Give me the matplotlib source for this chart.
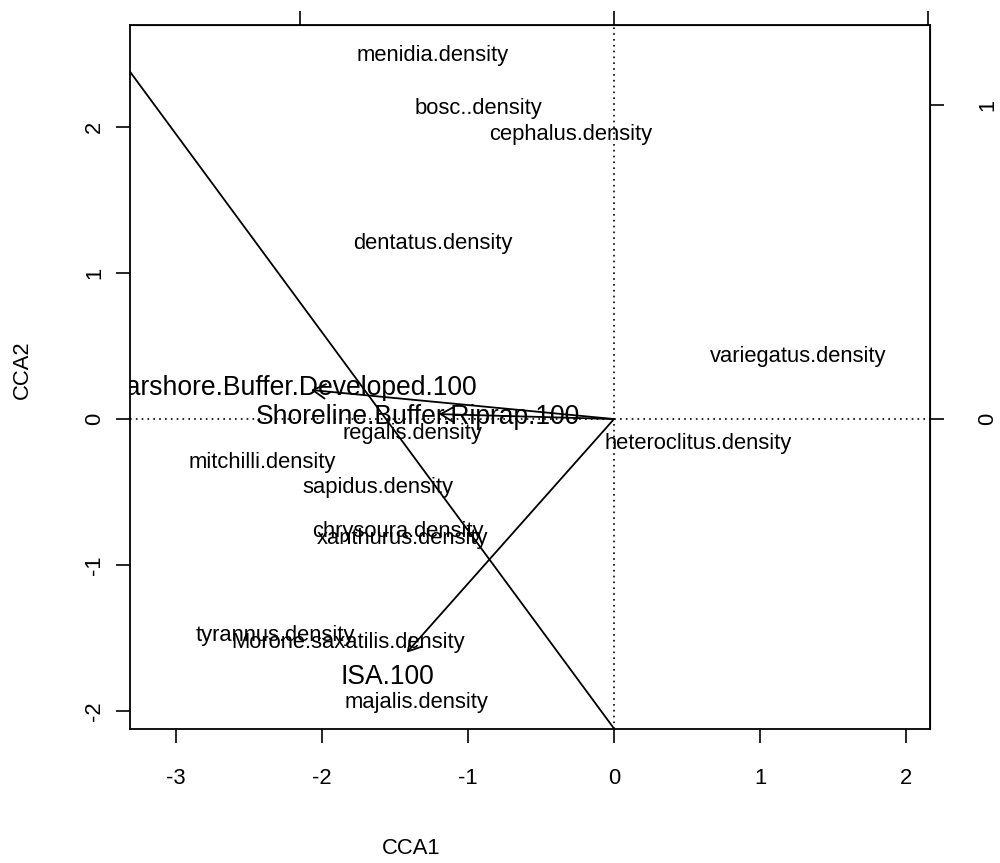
import matplotlib
matplotlib.use("Agg")
import matplotlib.pyplot as plt

plt.rcParams["font.family"] = ["Liberation Sans", "DejaVu Sans"]
plt.rcParams["axes.unicode_minus"] = False

# species scores (CCA1, CCA2)
species = [
    "menidia.density", "bosc..density", "cephalus.density", "dentatus.density",
    "variegatus.density", "heteroclitus.density", "regalis.density",
    "mitchilli.density", "sapidus.density", "chrysoura.density",
    "xanthurus.density", "tyrannus.density", "Morone.saxatilis.density",
    "majalis.density",
]
sp_x = [-1.24, -0.93, -0.30, -1.24, 1.26, 0.575, -1.38,
        -2.41, -1.62, -1.48, -1.45, -2.32, -1.82, -1.35]
sp_y = [2.49, 2.13, 1.95, 1.205, 0.425, -0.165, -0.10,
        -0.30, -0.47, -0.77, -0.815, -1.48, -1.53, -1.94]

# environmental biplot arrows
env = ["Nearshore.Buffer.Developed.100", "Shoreline.Buffer.Riprap.100", "ISA.100"]
env_x = [-2.075, -1.20, -1.42]
env_y = [0.199, 0.034, -1.60]
env_lab_x = [-2.25, -1.34, -1.55]
env_lab_y = [0.212, 0.014, -1.77]

# extra straight line across the ordination
line_x = [0.0, -3.5]
line_y = [-2.12, 2.63]

arrow_mul = 2.15

fig = plt.figure(figsize=(10, 8.63), dpi=100)
ax = fig.add_axes([0.13, 1 - 729 / 863, 0.80, 704 / 863])
ax.set_xlim(-3.315, 2.164)
ax.set_ylim(-2.123, 2.699)

ax.axhline(0, color="black", lw=1.2, ls=(0, (1, 2.5)))
ax.axvline(0, color="black", lw=1.2, ls=(0, (1, 2.5)))

ax.plot(line_x, line_y, color="black", lw=1.3)

for name, x, y in zip(species, sp_x, sp_y):
    ax.text(x, y, name, fontsize=15.8, ha="center", va="center", clip_on=True)

for name, x, y, lx, ly in zip(env, env_x, env_y, env_lab_x, env_lab_y):
    ax.annotate(
        "", xy=(x, y), xytext=(0, 0),
        arrowprops=dict(arrowstyle="->,head_length=0.45,head_width=0.26",
                        color="black", lw=1.3, shrinkA=0, shrinkB=0,
                        mutation_scale=20),
    )
    ax.text(lx, ly, name, fontsize=19.1, ha="center", va="center", clip_on=True)

ax.set_xticks([-3, -2, -1, 0, 1, 2])
ax.set_yticks([-2, -1, 0, 1, 2])
ax.tick_params(direction="out", length=10, width=1.2, labelsize=15.8)
ax.tick_params(axis="x", pad=18)
ax.tick_params(axis="y", pad=8)
for lab in ax.get_yticklabels():
    lab.set_rotation(90)
    lab.set_va("center")
for sp in ax.spines.values():
    sp.set_linewidth(1.3)

top = ax.secondary_xaxis("top", functions=(lambda v: v / arrow_mul, lambda v: v * arrow_mul))
top.set_xticks([-1, 0, 1])
top.tick_params(direction="out", length=10, width=1.2, labelsize=15.8, pad=18)
right = ax.secondary_yaxis("right", functions=(lambda v: v / arrow_mul, lambda v: v * arrow_mul))
right.set_yticks([0, 1])
right.tick_params(direction="out", length=10, width=1.2, labelsize=15.8, pad=24)
for lab in right.get_yticklabels():
    lab.set_rotation(90)
    lab.set_va("center")

fig.text(411 / 1000, 1 - 848 / 863, "CCA1", fontsize=15.8, ha="center", va="center")
fig.text(22 / 1000, 1 - 370 / 863, "CCA2", fontsize=15.8, ha="center", va="center", rotation=90)

fig.savefig("out.png", dpi=100)
